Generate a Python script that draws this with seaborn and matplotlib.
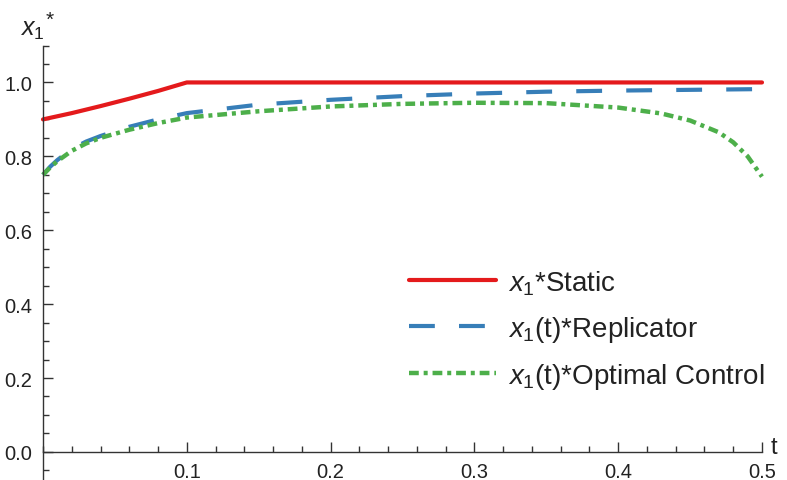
import numpy as np
import pandas as pd
import matplotlib
matplotlib.use("Agg")
import matplotlib.pyplot as plt
from matplotlib.ticker import MultipleLocator, FixedLocator
import seaborn as sns

# ---- data ----
t_static = [0.0, 0.02, 0.04, 0.06, 0.08, 0.1, 0.5]
x_static = [0.9, 0.917, 0.936, 0.956, 0.977, 1.0, 1.0]

t_rep = [0.0, 0.005, 0.01, 0.02, 0.03, 0.04, 0.06, 0.08, 0.1, 0.15, 0.2, 0.25, 0.3, 0.35, 0.4, 0.45, 0.5]
x_rep = [0.75, 0.772, 0.79, 0.82, 0.84, 0.855, 0.88, 0.90, 0.917, 0.94, 0.953, 0.963, 0.97, 0.975, 0.978, 0.98, 0.982]

t_opt = [0.0, 0.005, 0.01, 0.02, 0.03, 0.04, 0.06, 0.08, 0.1, 0.15, 0.2, 0.25, 0.3, 0.35, 0.4, 0.43, 0.45, 0.47, 0.48, 0.49, 0.5]
x_opt = [0.75, 0.77, 0.787, 0.815, 0.835, 0.85, 0.872, 0.89, 0.905, 0.922, 0.935, 0.942, 0.945, 0.944, 0.932, 0.916, 0.897, 0.865, 0.838, 0.80, 0.745]

labels = [r"$x_1$*Static", r"$x_1$(t)*Replicator", r"$x_1$(t)*Optimal Control"]
colors = ["#E41A1C", "#377EB8", "#4DAF4A"]
xtick_vals = [0.1, 0.2, 0.3, 0.4, 0.5]
xtick_labels = ["0.1", "0.2", "0.3", "0.4", "0.5"]
ytick_vals = [0.0, 0.2, 0.4, 0.6, 0.8, 1.0]
ytick_labels = ["0.0", "0.2", "0.4", "0.6", "0.8", "1.0"]

sns.set_theme(style="white")
plt.rcParams["font.family"] = ["Liberation Sans", "DejaVu Sans"]
plt.rcParams["mathtext.fontset"] = "custom"
plt.rcParams["mathtext.rm"] = "Liberation Sans"
plt.rcParams["mathtext.it"] = "Liberation Sans:italic"

fig = plt.figure(figsize=(7.87, 4.81), dpi=100)
ax = fig.add_axes([43 / 787, 0.0, 719 / 787, (481 - 46.5) / 481])

df_s = pd.DataFrame({"t": t_static, "x": x_static})
df_r = pd.DataFrame({"t": t_rep, "x": x_rep})
df_o = pd.DataFrame({"t": t_opt, "x": x_opt})

sns.lineplot(data=df_s, x="t", y="x", ax=ax, color=colors[0], lw=3.0,
             label=labels[0], sort=False, clip_on=False)
sns.lineplot(data=df_r, x="t", y="x", ax=ax, color=colors[1], lw=3.0,
             linestyle=(0, (6.2, 5.8)), label=labels[1], sort=False, clip_on=False)
sns.lineplot(data=df_o, x="t", y="x", ax=ax, color=colors[2], lw=3.2,
             linestyle=(0, (2.2, 1.1, 0.9, 1.1)), label=labels[2], sort=False, clip_on=False)

ax.set_xlim(0, 0.5)
ax.set_ylim(-0.076, 1.1)

for s in ["top", "right"]:
    ax.spines[s].set_visible(False)
ax.spines["bottom"].set_position(("data", 0))
ax.spines["left"].set_position(("data", 0))
axcol = "#333333"
for s in ["bottom", "left"]:
    ax.spines[s].set_color(axcol)
    ax.spines[s].set_linewidth(1.0)

ax.xaxis.set_major_locator(FixedLocator(xtick_vals))
ax.xaxis.set_minor_locator(MultipleLocator(0.02))
ax.yaxis.set_major_locator(FixedLocator(ytick_vals))
ax.yaxis.set_minor_locator(MultipleLocator(0.05))
ax.set_xticklabels(xtick_labels)
ax.set_yticklabels(ytick_labels)

ax.tick_params(axis="x", which="major", direction="in", length=7, width=1, color=axcol,
               labelsize=14.5, pad=7, labelcolor="#222222", bottom=True)
ax.tick_params(axis="x", which="minor", direction="in", length=4, width=1, color=axcol, bottom=True)
ax.tick_params(axis="y", which="major", direction="in", length=7, width=1, color=axcol,
               labelsize=14.5, pad=8, labelcolor="#222222", left=True)
ax.tick_params(axis="y", which="minor", direction="in", length=4, width=1, color=axcol, left=True)
ax.set_xlabel("")
ax.set_ylabel("")

fig.text(20 / 787, 1 - 30 / 481, r"$x_1$", fontsize=18, va="center", ha="left", color="#222222")
fig.text(46 / 787, 1 - 20 / 481, "*", fontsize=15, va="center", ha="left", color="#222222")
fig.text(771 / 787, 1 - 448 / 481, "t", fontsize=17, va="center", ha="left", color="#222222")

leg = ax.legend(loc="upper left", bbox_to_anchor=(0.494, 0.513), frameon=False,
                fontsize=20, handlelength=3.13, handletextpad=0.42, labelspacing=0.62,
                borderaxespad=0)
for txt in leg.get_texts():
    txt.set_color("#222222")

fig.savefig("out.png", dpi=100)
